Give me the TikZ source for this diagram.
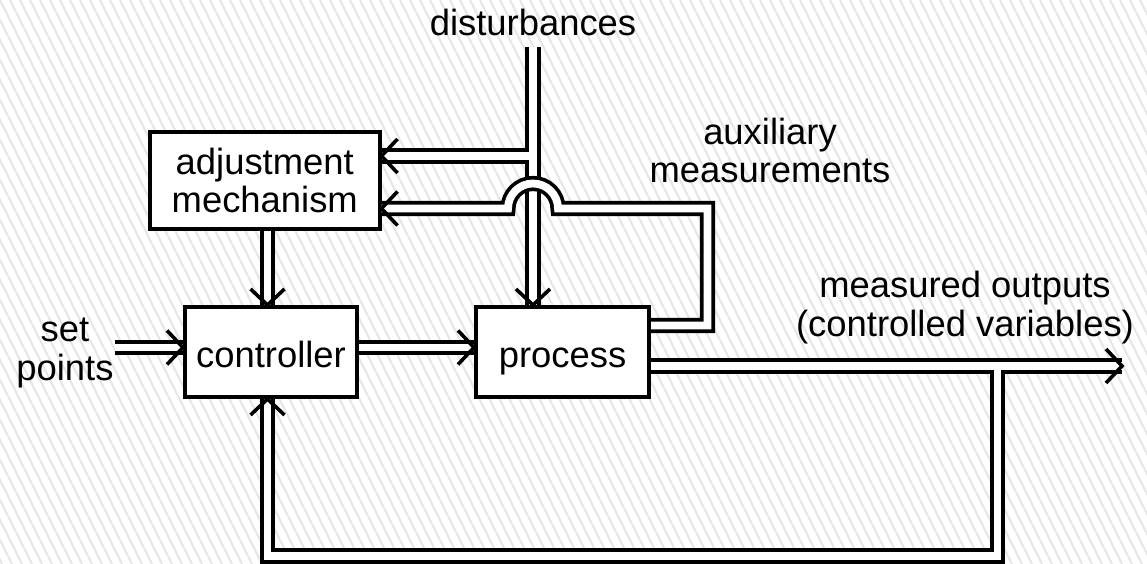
\documentclass[tikz,border=0pt]{standalone}
\usepackage{fontspec}
\setmainfont{Liberation Sans}
\usetikzlibrary{calc}

\begin{document}
\begin{tikzpicture}[x=1pt, y=-1pt,
  font=\fontsize{36.4}{38.5}\selectfont,
  stripe/.style={draw=black!10, line width=1.9pt},
  box/.style={draw, line width=4pt, fill=white, inner sep=0pt},
  onebox/.style={box, minimum height=90pt, text height=30pt, text depth=0pt},
  lbl/.style={align=center, inner sep=0pt},
  dblout/.style={draw=black, line width=15.2pt, line join=miter},
  dblin/.style={draw=white, line width=7.8pt, line join=miter},
  chev/.pic={\draw[line width=3.6pt, line join=miter] (-16,-17) -- (0,0) -- (-16,17);}
]
% hatched background
\fill[white] (0,0) rectangle (1147,564);
\begin{scope}
  \clip (0,0) rectangle (1147,564);
  \foreach \i in {-290,-280,...,1150} \draw[stripe] (\i,0) -- ++(282,564);
\end{scope}
\useasboundingbox (0,0) rectangle (1147,564);

% blocks
\node[box, minimum width=229.5pt, minimum height=97pt, align=center] (adj) at (264.75,180.5) {adjustment\\mechanism};
\node[onebox, minimum width=172pt] (ctrl) at (271,352) {controller};
\node[onebox, minimum width=173pt] (proc) at (562.5,352) {process};

% labels
\node[lbl, anchor=base] (dist) at (533,36) {disturbances};
\node[lbl] (sp) at (65,353) {set\\points};
\node[lbl] (auxl) at (770,150.5) {auxiliary\\measurements};
\node[lbl] (outl) at (965,307.5) {measured outputs\\(controlled variables)};

% routing points
\coordinate (spA) at (115,347.5);
\coordinate (fbx) at (267.5,0);
\coordinate (dtop) at (533,47);
\coordinate (dbr) at (533,156);
\coordinate (aux1) at (0,325.5);
\coordinate (ar) at (707.5,208.5);
\coordinate (hopR) at (558,208.5);
\coordinate (otip) at (1122,366);
\coordinate (obr) at (997.5,366);
\coordinate (fbot) at (997.5,556);

% double-line connectors: black body first, then white core
\foreach \s in {dblout, dblin} {
  \draw[\s] (spA) -- (ctrl.west |- spA);
  \draw[\s] (ctrl.east |- spA) -- (proc.west |- spA);
  \draw[\s] (adj.south -| fbx) -- (ctrl.north -| fbx);
  \draw[\s] (dtop) -- (proc.north -| dtop);
  \draw[\s] (dbr) -- (adj.east |- dbr);
  \draw[\s] (proc.east |- otip) -- (otip);
  \draw[\s] (obr) -- (fbot) -- (fbot -| fbx) -- (ctrl.south -| fbx);
}
% auxiliary measurements hop over the disturbance line
\foreach \s in {dblout, dblin} {
  \draw[\s] (proc.east |- aux1) -- (ar |- aux1) -- (ar) -- (hopR)
    arc[start angle=0, end angle=-180, radius=25] -- (adj.east |- ar);
}

% arrowheads
\pic at (ctrl.west |- spA) {chev};
\pic at (proc.west |- spA) {chev};
\pic[rotate=-90] at (ctrl.north -| fbx) {chev};
\pic[rotate=-90] at (proc.north -| dtop) {chev};
\pic[rotate=180] at (adj.east |- dbr) {chev};
\pic[rotate=180] at (adj.east |- ar) {chev};
\pic at (otip) {chev};
\pic[rotate=90] at (ctrl.south -| fbx) {chev};
\end{tikzpicture}
\end{document}
